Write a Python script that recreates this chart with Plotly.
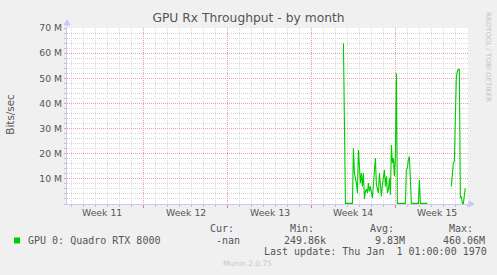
import plotly.graph_objects as go

# ---------------- data ----------------
times = [
    '2024-04-03 16:00', '2024-04-03 20:00', '2024-04-04 02:00', '2024-04-04 10:00',
    '2024-04-04 12:00', '2024-04-04 14:00', '2024-04-04 18:00', '2024-04-04 20:00',
    '2024-04-04 22:00', '2024-04-05 00:00', '2024-04-05 02:00', '2024-04-05 04:00',
    '2024-04-05 06:00', '2024-04-05 08:00', '2024-04-05 10:00', '2024-04-05 12:00',
    '2024-04-05 14:00', '2024-04-05 16:00', '2024-04-05 18:00', '2024-04-05 20:00',
    '2024-04-05 22:00', '2024-04-06 02:00', '2024-04-06 04:00', '2024-04-06 06:00',
    '2024-04-06 08:00', '2024-04-06 10:00', '2024-04-06 14:00', '2024-04-06 16:00',
    '2024-04-06 18:00', '2024-04-06 20:00', '2024-04-06 22:00', '2024-04-07 00:00',
    '2024-04-07 02:00', '2024-04-07 04:00', '2024-04-07 06:00', '2024-04-07 08:00',
    '2024-04-07 10:00', '2024-04-07 12:00', '2024-04-07 14:00', '2024-04-07 16:00',
    '2024-04-07 18:00', '2024-04-07 20:00', '2024-04-07 22:00', '2024-04-08 00:00',
    '2024-04-08 02:00', '2024-04-08 04:00', '2024-04-08 20:00', '2024-04-08 22:00',
    '2024-04-09 00:00', '2024-04-09 02:00', '2024-04-09 04:00', '2024-04-09 06:00',
    '2024-04-09 08:00', '2024-04-09 22:00', '2024-04-10 00:00', '2024-04-10 02:00',
    '2024-04-10 16:00', '2024-04-10 18:00',
    '2024-04-12 16:00', '2024-04-12 18:00', '2024-04-12 20:00', '2024-04-12 22:00',
    '2024-04-13 00:00', '2024-04-13 02:00', '2024-04-13 04:00', '2024-04-13 06:00',
    '2024-04-13 08:00', '2024-04-13 10:00', '2024-04-13 12:00', '2024-04-13 14:00',
    '2024-04-13 16:00', '2024-04-13 18:00', '2024-04-13 20:00',
]
rx_mbits = [
    63.9, 0.26, 0.26, 0.26,
    22.2, 12.3, 8.1, 4.4,
    21.5, 16.3, 8.3, 12.3,
    7.0, 12.3, 2.0, 5.0,
    5.9, 4.4, 8.3, 5.0,
    7.0, 2.4, 7.0, 11.0,
    18.3, 7.6, 4.4, 12.3,
    8.3, 3.0, 7.6, 11.0,
    13.6, 7.0, 11.0, 4.4,
    5.6, 10.4, 3.7, 23.5,
    16.3, 18.3, 11.0, 18.9,
    52.0, 0.26, 0.26, 13.6,
    14.3, 17.6, 18.9, 9.6,
    0.26, 0.26, 9.6, 0.26,
    0.26, None,
    7.0, 13.6, 16.3, 16.9,
    37.4, 50.6, 52.6, 53.6,
    53.6, 2.4, 3.0, 0.26,
    0.26, 3.0, 6.3,
]

week_centers = ['2024-03-14 12:00', '2024-03-21 12:00', '2024-03-28 12:00',
                '2024-04-04 12:00', '2024-04-11 12:00']
week_labels = ['Week 11', 'Week 12', 'Week 13', 'Week 14', 'Week 15']
week_starts = ['2024-03-18', '2024-03-25', '2024-04-01', '2024-04-08']

y_ticks = [10, 20, 30, 40, 50, 60, 70]
y_tick_labels = ['10 M', '20 M', '30 M', '40 M', '50 M', '60 M', '70 M']

series_name = 'GPU 0: Quadro RTX 8000'
stat_labels = ['Cur:', 'Min:', 'Avg:', 'Max:']
stat_values = ['-nan', '249.86k', '9.83M', '460.06M']
last_update = 'Last update: Thu Jan  1 01:00:00 1970'

# ---------------- layout helpers ----------------
W, H = 497, 275
L, R, T, B = 67, 468, 28, 204
PW, PH = R - L, B - T


def px_x(x):
    return (x - L) / PW


def px_y(y):
    return (B - y) / PH


GREEN = '#00CC00'
TXT = '#555555'
AXIS = '#c8c8f8'
MAJOR_GRID = '#eaa0a0'
MINOR_GRID = '#d8d8d8'
MONO = 'DejaVu Sans Mono'
SANS = 'DejaVu Sans'

fig = go.Figure()
fig.add_trace(go.Scatter(
    x=times, y=rx_mbits, mode='lines', connectgaps=False,
    line=dict(color=GREEN, width=1.1), showlegend=False, hoverinfo='skip'))

fig.update_layout(
    width=W, height=H,
    margin=dict(l=L, r=W - R, t=T, b=H - B),
    paper_bgcolor='#F0F0F0', plot_bgcolor='#FFFFFF',
    title=dict(text='GPU Rx Throughput - by month', x=0.5, xref='container',
               xanchor='center', y=1 - 18 / H, yref='container', yanchor='middle',
               font=dict(family=SANS, size=12.3, color=TXT)),
    font=dict(family=SANS, color=TXT),
)

fig.update_xaxes(
    type='date', range=['2024-03-11 14:40', '2024-04-14 01:20'],
    tickmode='array', tickvals=week_starts, ticktext=[''] * len(week_starts),
    ticks='outside', ticklen=3, tickcolor='#e08080',
    showgrid=True, gridcolor=MAJOR_GRID, griddash='1px,1px', gridwidth=1,
    zeroline=False, showline=True, linecolor=AXIS, linewidth=1,
    minor=dict(dtick=86400000, tick0='2024-03-11', showgrid=True,
               gridcolor=MINOR_GRID, griddash='1px,1px', gridwidth=1,
               ticks='outside', ticklen=2, tickcolor='#c0c0c0'),
    fixedrange=True,
)
fig.update_yaxes(
    range=[0, 70], tickmode='array', tickvals=y_ticks, ticktext=y_tick_labels,
    tickfont=dict(family=SANS, size=9.3, color=TXT),
    ticks='outside', ticklen=2, tickcolor='#e0a0a0',
    showgrid=True, gridcolor=MAJOR_GRID, griddash='1px,1px', gridwidth=1,
    zeroline=False, showline=True, linecolor=AXIS, linewidth=1,
    minor=dict(dtick=2, tick0=0, showgrid=True, gridcolor=MINOR_GRID,
               griddash='1px,1px', gridwidth=1, ticks='outside', ticklen=2,
               tickcolor='#c0c0c0'),
    fixedrange=True,
)

shapes = []
# axis arrows
shapes.append(dict(type='path', xref='paper', yref='paper', xsizemode='pixel',
                   ysizemode='pixel', xanchor=0, yanchor=1,
                   path='M0,0 L0,3 M-3,3 L3,3 L0,8 Z',
                   fillcolor=AXIS, line=dict(color=AXIS, width=1), layer='above'))
shapes.append(dict(type='path', xref='paper', yref='paper', xsizemode='pixel',
                   ysizemode='pixel', xanchor=1, yanchor=0,
                   path='M0,0 L1,0 M1,-3 L1,3 L6,0 Z',
                   fillcolor=AXIS, line=dict(color=AXIS, width=1), layer='above'))
# legend swatch
shapes.append(dict(type='rect', xref='paper', yref='paper',
                   x0=px_x(14), x1=px_x(20), y0=px_y(243.5), y1=px_y(237.5),
                   fillcolor=GREEN, line=dict(width=0), layer='above'))
fig.update_layout(shapes=shapes)

ann = []


def text(x, y, s, font, xanchor='left', angle=0, size=10, color=TXT):
    ann.append(dict(x=px_x(x), y=px_y(y), xref='paper', yref='paper', text=s,
                    showarrow=False, xanchor=xanchor, yanchor='middle',
                    textangle=angle, font=dict(family=font, size=size, color=color)))


# week labels centred in each week
for wc, wl in zip(week_centers, week_labels):
    ann.append(dict(x=wc, xref='x', y=px_y(212.7), yref='paper', text=wl,
                    showarrow=False, xanchor='center', yanchor='middle',
                    font=dict(family=SANS, size=9.3, color=TXT)))

text(10, 114.7, 'Bits/sec', SANS, xanchor='center', angle=-90, size=10.4)
text(488, 57, 'RRDTOOL / TOBI OETIKER', SANS, xanchor='center', angle=90, size=7,
     color='#c4c4c4')
text(26, 240.5, series_name, MONO)
for xs, s in zip([208.3, 287.7, 367.7, 446.7], stat_labels):
    text(xs, 228.3, s, MONO)
for xs, s in zip([214.3, 281.7, 372.7, 441.0], stat_values):
    text(xs, 240.0, s, MONO)
text(261.7, 251.7, last_update, MONO)
text(247.5, 263.3, 'Munin 2.0.75', SANS, xanchor='center', size=7.5, color='#c8c8c8')
fig.update_layout(annotations=ann)

fig.write_html('out.html')
